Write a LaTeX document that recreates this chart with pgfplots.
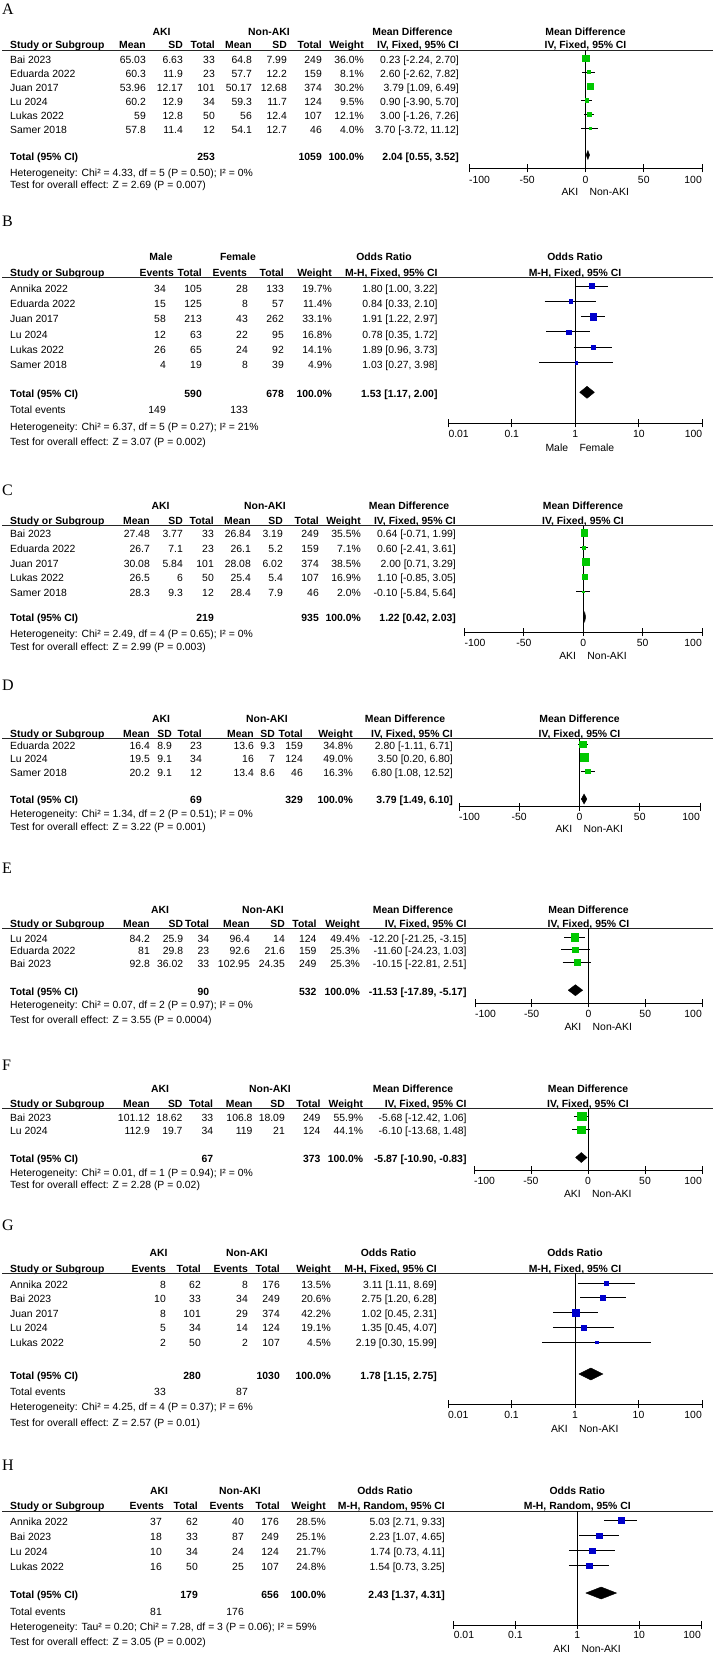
\documentclass[border=0pt]{standalone}
\usepackage{fontspec}
\setmainfont{Liberation Sans}
\newfontfamily\letterfont{Liberation Serif}
\usepackage{pgfplots}
\pgfplotsset{compat=1.18}

\definecolor{boxgreen}{RGB}{0,200,0}
\definecolor{boxblue}{RGB}{0,0,204}

\newcommand\tabfont{\fontsize{10.4}{12}\selectfont}
\tikzset{
  tl/.style={anchor=base west, inner sep=0pt, yshift=-3.7pt, font=\tabfont},
  tr/.style={anchor=base east, inner sep=0pt, yshift=-3.7pt, font=\tabfont},
  tc/.style={anchor=base, inner sep=0pt, yshift=-3.7pt, font=\tabfont},
  tb/.style={font=\tabfont\bfseries},
  letter/.style={anchor=base west, inner sep=0pt, yshift=-5.4pt, font=\letterfont\fontsize{16}{18}\selectfont},
  rule/.style={line width=0.8pt, black!85},
}

% one table row: [style]{right edges of columns}{y}{study}{other cells}
\newcommand\trow[5][]{%
  \node[tl,#1] at (10pt,-#3pt) {#4};
  \foreach \v [count=\i] in {#5} {%
    \pgfmathsetmacro\xx{#2[\i-1]}%
    \node[tr,#1] at (\xx pt,-#3pt) {\v};
  }%
}

% forest plot pieces
\newcommand\study[6]{% colour, estimate, lower, upper, y, weight
  \addplot[black, line width=0.9pt] coordinates {(#3,-#5) (#4,-#5)};
  \addplot[only marks, mark=square*, color=#1, mark size={0.56*sqrt(#6)},
    mark options={line width=0.2pt}] coordinates {(#2,-#5)};
}
\newcommand\diamondrow[5]{% estimate, lower, upper, y, half height
  \pgfmathsetmacro\ytop{-#4+#5}\pgfmathsetmacro\ybot{-#4-#5}%
  \addplot[black, fill=black, line width=0.4pt]
    coordinates {(#2,-#4) (#1,\ytop) (#3,-#4) (#1,\ybot) (#2,-#4)};
}
\newcommand\nullline[3]{\addplot[black, line width=0.9pt] coordinates {(#1,-#2) (#1,-#3)};}
\newcommand\mdlabels[4]{%
  \node[tl] at (axis cs:-100,-#1) {-100};
  \node[tc] at (axis cs:-50,-#1) {-50};
  \node[tc] at (axis cs:0,-#1) {0};
  \node[tc] at (axis cs:50,-#1) {50};
  \node[tr] at (axis cs:100,-#1) {100};
  \node[tr] at ([xshift=-7pt]axis cs:0,-#2) {#3};
  \node[tl] at ([xshift=4pt]axis cs:0,-#2) {#4};
}
\newcommand\orlabels[4]{%
  \node[tl] at (axis cs:0.01,-#1) {0.01};
  \node[tc] at (axis cs:0.1,-#1) {0.1};
  \node[tc] at (axis cs:1,-#1) {1};
  \node[tc] at (axis cs:10,-#1) {10};
  \node[tr] at (axis cs:100,-#1) {100};
  \node[tr] at ([xshift=-7pt]axis cs:1,-#2) {#3};
  \node[tl] at ([xshift=4pt]axis cs:1,-#2) {#4};
}

\pgfplotsset{
  fplot/.style={scale only axis, clip=false, anchor=south west,
    axis x line=bottom, axis y line=none,
    axis line style={-, line width=0.9pt, black},
    every outer x axis line/.append style={-},
    major tick length=8pt, tick align=center,
    tick style={line width=0.9pt, black},
    xticklabels={}, ytick=\empty},
  mdaxis/.style={fplot, xmin=-100, xmax=100, xtick={-100,-50,0,50,100}},
  oraxis/.style={fplot, xmin=0.01, xmax=100,
    xtick={0.01,0.1,1,10,100}, xminorticks=false},
}

% column right edges
\def\cA{{146,183,215,252,287,322,364,459}}
\def\cB{{166,202,248,284,332,437.7}}
\def\hB{{174,202,247,284,332,437.7}}
\def\cC{{150,183,214,251,283,319,361,456}}
\def\cD{{150,172,202,254,275,303,353,453}}
\def\cE{{150,183.3,209.3,250,285,316.7,360,466.7}}
\def\cF{{150,182.7,213.3,252.7,285,320.7,363.3,466.7}}
\def\cG{{166,201,248,280,331,437}}
\def\cH{{162,198,244,279,326,445}}
\def\hH{{164,198,244,280,326,445}}

\begin{document}
\begin{tikzpicture}

% ---------------- A ----------------
\node[letter] at (2pt,-9.5pt) {A};
\node[tc,tb] at (161.5pt,-32pt) {AKI};
\node[tc,tb] at (269pt,-32pt) {Non-AKI};
\node[tc,tb] at (412.5pt,-32pt) {Mean Difference};
\node[tc,tb] at (585.5pt,-32pt) {Mean Difference};
\trow[tb]{\cA}{45}{Study or Subgroup}{Mean,SD,Total,Mean,SD,Total,Weight,{IV, Fixed, 95\% CI}}
\node[tc,tb] at (585.5pt,-45pt) {IV, Fixed, 95\% CI};
\draw[rule] (2pt,-50pt) -- (713pt,-50pt);
\trow{\cA}{60}{Bai 2023}{65.03,6.63,33,64.8,7.99,249,36.0\%,{0.23 [-2.24, 2.70]}}
\trow{\cA}{74}{Eduarda 2022}{60.3,11.9,23,57.7,12.2,159,8.1\%,{2.60 [-2.62, 7.82]}}
\trow{\cA}{88}{Juan 2017}{53.96,12.17,101,50.17,12.68,374,30.2\%,{3.79 [1.09, 6.49]}}
\trow{\cA}{102}{Lu 2024}{60.2,12.9,34,59.3,11.7,124,9.5\%,{0.90 [-3.90, 5.70]}}
\trow{\cA}{116}{Lukas 2022}{59,12.8,50,56,12.4,107,12.1\%,{3.00 [-1.26, 7.26]}}
\trow{\cA}{130}{Samer 2018}{57.8,11.4,12,54.1,12.7,46,4.0\%,{3.70 [-3.72, 11.12]}}
\trow[tb]{\cA}{157}{Total (95\% CI)}{,,253,,,1059,100.0\%,{2.04 [0.55, 3.52]}}
\node[tl] at (10pt,-173pt) {Heterogeneity: Chi² = 4.33, df = 5 (P = 0.50); I² = 0\%};
\node[tl] at (10pt,-185pt) {Test for overall effect: Z = 2.69 (P = 0.007)};
\begin{axis}[mdaxis, at={(469pt,-168.3pt)}, width=233pt, height=118.3pt, ymin=-168.3, ymax=-50]
  \nullline{0}{50}{168.3}
  \study{boxgreen}{0.23}{-2.24}{2.70}{58}{36.0}
  \study{boxgreen}{2.60}{-2.62}{7.82}{72}{8.1}
  \study{boxgreen}{3.79}{1.09}{6.49}{86}{30.2}
  \study{boxgreen}{0.90}{-3.90}{5.70}{100}{9.5}
  \study{boxgreen}{3.00}{-1.26}{7.26}{114}{12.1}
  \study{boxgreen}{3.70}{-3.72}{11.12}{128}{4.0}
  \diamondrow{2.04}{0.55}{3.52}{155}{4.5}
  \mdlabels{180}{192}{AKI}{Non-AKI}
\end{axis}

% ---------------- B ----------------
\node[letter] at (2pt,-221pt) {B};
\node[tc,tb] at (161pt,-257pt) {Male};
\node[tc,tb] at (238pt,-257pt) {Female};
\node[tc,tb] at (384pt,-257pt) {Odds Ratio};
\node[tc,tb] at (575pt,-257pt) {Odds Ratio};
\trow[tb]{\hB}{273}{Study or Subgroup}{Events,Total,Events,Total,Weight,{M-H, Fixed, 95\% CI}}
\node[tc,tb] at (575pt,-273pt) {M-H, Fixed, 95\% CI};
\draw[rule] (2pt,-277pt) -- (713pt,-277pt);
\trow{\cB}{288.5}{Annika 2022}{34,105,28,133,19.7\%,{1.80 [1.00, 3.22]}}
\trow{\cB}{303.8}{Eduarda 2022}{15,125,8,57,11.4\%,{0.84 [0.33, 2.10]}}
\trow{\cB}{319.1}{Juan 2017}{58,213,43,262,33.1\%,{1.91 [1.22, 2.97]}}
\trow{\cB}{334.4}{Lu 2024}{12,63,22,95,16.8\%,{0.78 [0.35, 1.72]}}
\trow{\cB}{349.7}{Lukas 2022}{26,65,24,92,14.1\%,{1.89 [0.96, 3.73]}}
\trow{\cB}{365}{Samer 2018}{4,19,8,39,4.9\%,{1.03 [0.27, 3.98]}}
\trow[tb]{\cB}{394}{Total (95\% CI)}{,590,,678,100.0\%,{1.53 [1.17, 2.00]}}
\trow{\cB}{410}{Total events}{149,,133}
\node[tl] at (10pt,-427pt) {Heterogeneity: Chi² = 6.37, df = 5 (P = 0.27); I² = 21\%};
\node[tl] at (10pt,-442pt) {Test for overall effect: Z = 3.07 (P = 0.002)};
\begin{semilogxaxis}[oraxis, at={(448.3pt,-423.3pt)}, width=254pt, height=146.3pt, ymin=-423.3, ymax=-277]
  \nullline{1}{277}{423.3}
  \study{boxblue}{1.80}{1.00}{3.22}{286}{19.7}
  \study{boxblue}{0.84}{0.33}{2.10}{301.3}{11.4}
  \study{boxblue}{1.91}{1.22}{2.97}{316.6}{33.1}
  \study{boxblue}{0.78}{0.35}{1.72}{331.9}{16.8}
  \study{boxblue}{1.89}{0.96}{3.73}{347.2}{14.1}
  \study{boxblue}{1.03}{0.27}{3.98}{362.5}{4.9}
  \diamondrow{1.53}{1.17}{2.00}{392.3}{6}
  \orlabels{433.5}{448}{Male}{Female}
\end{semilogxaxis}

% ---------------- C ----------------
\node[letter] at (2pt,-490pt) {C};
\node[tc,tb] at (160.5pt,-506pt) {AKI};
\node[tc,tb] at (265pt,-506pt) {Non-AKI};
\node[tc,tb] at (409pt,-506pt) {Mean Difference};
\node[tc,tb] at (583pt,-506pt) {Mean Difference};
\trow[tb]{\cC}{521}{Study or Subgroup}{Mean,SD,Total,Mean,SD,Total,Weight,{IV, Fixed, 95\% CI}}
\node[tc,tb] at (583pt,-521pt) {IV, Fixed, 95\% CI};
\draw[rule] (2pt,-525.7pt) -- (713pt,-525.7pt);
\trow{\cC}{534}{Bai 2023}{27.48,3.77,33,26.84,3.19,249,35.5\%,{0.64 [-0.71, 1.99]}}
\trow{\cC}{549}{Eduarda 2022}{26.7,7.1,23,26.1,5.2,159,7.1\%,{0.60 [-2.41, 3.61]}}
\trow{\cC}{563.5}{Juan 2017}{30.08,5.84,101,28.08,6.02,374,38.5\%,{2.00 [0.71, 3.29]}}
\trow{\cC}{578}{Lukas 2022}{26.5,6,50,25.4,5.4,107,16.9\%,{1.10 [-0.85, 3.05]}}
\trow{\cC}{593}{Samer 2018}{28.3,9.3,12,28.4,7.9,46,2.0\%,{-0.10 [-5.84, 5.64]}}
\trow[tb]{\cC}{618}{Total (95\% CI)}{,,219,,,935,100.0\%,{1.22 [0.42, 2.03]}}
\node[tl] at (10pt,-634pt) {Heterogeneity: Chi² = 2.49, df = 4 (P = 0.65); I² = 0\%};
\node[tl] at (10pt,-647pt) {Test for overall effect: Z = 2.99 (P = 0.003)};
\begin{axis}[mdaxis, at={(464.5pt,-632pt)}, width=237.5pt, height=106.3pt, ymin=-632, ymax=-525.7]
  \nullline{0}{525.7}{632}
  \study{boxgreen}{0.64}{-0.71}{1.99}{532.5}{35.5}
  \study{boxgreen}{0.60}{-2.41}{3.61}{547.5}{7.1}
  \study{boxgreen}{2.00}{0.71}{3.29}{562}{38.5}
  \study{boxgreen}{1.10}{-0.85}{3.05}{576.5}{16.9}
  \study{boxgreen}{-0.10}{-5.84}{5.64}{591.5}{2.0}
  \diamondrow{1.22}{0.42}{2.03}{617}{5}
  \mdlabels{643}{656}{AKI}{Non-AKI}
\end{axis}

% ---------------- D ----------------
\node[letter] at (2pt,-685pt) {D};
\node[tc,tb] at (161pt,-719pt) {AKI};
\node[tc,tb] at (267pt,-719pt) {Non-AKI};
\node[tc,tb] at (405pt,-719pt) {Mean Difference};
\node[tc,tb] at (579.5pt,-719pt) {Mean Difference};
\trow[tb]{\cD}{734}{Study or Subgroup}{Mean,SD,Total,Mean,SD,Total,Weight,{IV, Fixed, 95\% CI}}
\node[tc,tb] at (579.5pt,-734pt) {IV, Fixed, 95\% CI};
\draw[rule] (2pt,-738.3pt) -- (713pt,-738.3pt);
\trow{\cD}{745.5}{Eduarda 2022}{16.4,8.9,23,13.6,9.3,159,34.8\%,{2.80 [-1.11, 6.71]}}
\trow{\cD}{759}{Lu 2024}{19.5,9.1,34,16,7,124,49.0\%,{3.50 [0.20, 6.80]}}
\trow{\cD}{772.5}{Samer 2018}{20.2,9.1,12,13.4,8.6,46,16.3\%,{6.80 [1.08, 12.52]}}
\trow[tb]{\cD}{800}{Total (95\% CI)}{,,69,,,329,100.0\%,{3.79 [1.49, 6.10]}}
\node[tl] at (10pt,-814pt) {Heterogeneity: Chi² = 1.34, df = 2 (P = 0.51); I² = 0\%};
\node[tl] at (10pt,-827pt) {Test for overall effect: Z = 3.22 (P = 0.001)};
\begin{axis}[mdaxis, at={(459pt,-806.7pt)}, width=241pt, height=68.4pt, ymin=-806.7, ymax=-738.3]
  \nullline{0}{738.3}{806.7}
  \study{boxgreen}{2.80}{-1.11}{6.71}{744}{34.8}
  \study{boxgreen}{3.50}{0.20}{6.80}{757.5}{49.0}
  \study{boxgreen}{6.80}{1.08}{12.52}{771}{16.3}
  \diamondrow{3.79}{1.49}{6.10}{799}{5}
  \mdlabels{817}{829}{AKI}{Non-AKI}
\end{axis}

% ---------------- E ----------------
\node[letter] at (2pt,-868pt) {E};
\node[tc,tb] at (160pt,-910pt) {AKI};
\node[tc,tb] at (263pt,-910pt) {Non-AKI};
\node[tc,tb] at (413pt,-910pt) {Mean Difference};
\node[tc,tb] at (588.5pt,-910pt) {Mean Difference};
\trow[tb]{\cE}{923.3}{Study or Subgroup}{Mean,SD,Total,Mean,SD,Total,Weight,{IV, Fixed, 95\% CI}}
\node[tc,tb] at (588.5pt,-923.3pt) {IV, Fixed, 95\% CI};
\draw[rule] (2pt,-928.3pt) -- (713pt,-928.3pt);
\trow{\cE}{938.3}{Lu 2024}{84.2,25.9,34,96.4,14,124,49.4\%,{-12.20 [-21.25, -3.15]}}
\trow{\cE}{951}{Eduarda 2022}{81,29.8,23,92.6,21.6,159,25.3\%,{-11.60 [-24.23, 1.03]}}
\trow{\cE}{963.7}{Bai 2023}{92.8,36.02,33,102.95,24.35,249,25.3\%,{-10.15 [-22.81, 2.51]}}
\trow[tb]{\cE}{991.7}{Total (95\% CI)}{,,90,,,532,100.0\%,{-11.53 [-17.89, -5.17]}}
\node[tl] at (10pt,-1005pt) {Heterogeneity: Chi² = 0.07, df = 2 (P = 0.97); I² = 0\%};
\node[tl] at (10pt,-1020pt) {Test for overall effect: Z = 3.55 (P = 0.0004)};
\begin{axis}[mdaxis, at={(475pt,-1003.3pt)}, width=227pt, height=75pt, ymin=-1003.3, ymax=-928.3]
  \nullline{0}{928.3}{1003.3}
  \study{boxgreen}{-12.20}{-21.25}{-3.15}{937}{49.4}
  \study{boxgreen}{-11.60}{-24.23}{1.03}{949.5}{25.3}
  \study{boxgreen}{-10.15}{-22.81}{2.51}{962.2}{25.3}
  \diamondrow{-11.53}{-17.89}{-5.17}{990.2}{5.5}
  \mdlabels{1014}{1027}{AKI}{Non-AKI}
\end{axis}

% ---------------- F ----------------
\node[letter] at (2pt,-1065pt) {F};
\node[tc,tb] at (160pt,-1088.3pt) {AKI};
\node[tc,tb] at (270pt,-1088.3pt) {Non-AKI};
\node[tc,tb] at (413pt,-1088.3pt) {Mean Difference};
\node[tc,tb] at (588pt,-1088.3pt) {Mean Difference};
\trow[tb]{\cF}{1103.3}{Study or Subgroup}{Mean,SD,Total,Mean,SD,Total,Weight,{IV, Fixed, 95\% CI}}
\node[tc,tb] at (588pt,-1103.3pt) {IV, Fixed, 95\% CI};
\draw[rule] (2pt,-1108.3pt) -- (713pt,-1108.3pt);
\trow{\cF}{1117.7}{Bai 2023}{101.12,18.62,33,106.8,18.09,249,55.9\%,{-5.68 [-12.42, 1.06]}}
\trow{\cF}{1131}{Lu 2024}{112.9,19.7,34,119,21,124,44.1\%,{-6.10 [-13.68, 1.48]}}
\trow[tb]{\cF}{1159}{Total (95\% CI)}{,,67,,,373,100.0\%,{-5.87 [-10.90, -0.83]}}
\node[tl] at (10pt,-1172.3pt) {Heterogeneity: Chi² = 0.01, df = 1 (P = 0.94); I² = 0\%};
\node[tl] at (10pt,-1185pt) {Test for overall effect: Z = 2.28 (P = 0.02)};
\begin{axis}[mdaxis, at={(474pt,-1170pt)}, width=228pt, height=61.7pt, ymin=-1170, ymax=-1108.3]
  \nullline{0}{1108.3}{1170}
  \study{boxgreen}{-5.68}{-12.42}{1.06}{1116.2}{55.9}
  \study{boxgreen}{-6.10}{-13.68}{1.48}{1129.5}{44.1}
  \diamondrow{-5.87}{-10.90}{-0.83}{1157.5}{5}
  \mdlabels{1181}{1194}{AKI}{Non-AKI}
\end{axis}

% ---------------- G ----------------
\node[letter] at (2pt,-1225pt) {G};
\node[tc,tb] at (158.6pt,-1253pt) {AKI};
\node[tc,tb] at (247pt,-1253pt) {Non-AKI};
\node[tc,tb] at (388.6pt,-1253pt) {Odds Ratio};
\node[tc,tb] at (575pt,-1253pt) {Odds Ratio};
\trow[tb]{\cG}{1269}{Study or Subgroup}{Events,Total,Events,Total,Weight,{M-H, Fixed, 95\% CI}}
\node[tc,tb] at (575pt,-1269pt) {M-H, Fixed, 95\% CI};
\draw[rule] (2pt,-1273pt) -- (713pt,-1273pt);
\trow{\cG}{1285}{Annika 2022}{8,62,8,176,13.5\%,{3.11 [1.11, 8.69]}}
\trow{\cG}{1299}{Bai 2023}{10,33,34,249,20.6\%,{2.75 [1.20, 6.28]}}
\trow{\cG}{1313.5}{Juan 2017}{8,101,29,374,42.2\%,{1.02 [0.45, 2.31]}}
\trow{\cG}{1328}{Lu 2024}{5,34,14,124,19.1\%,{1.35 [0.45, 4.07]}}
\trow{\cG}{1342.5}{Lukas 2022}{2,50,2,107,4.5\%,{2.19 [0.30, 15.99]}}
\trow[tb]{\cG}{1376}{Total (95\% CI)}{,280,,1030,100.0\%,{1.78 [1.15, 2.75]}}
\trow{\cG}{1392}{Total events}{33,,87}
\node[tl] at (10pt,-1407pt) {Heterogeneity: Chi² = 4.25, df = 4 (P = 0.37); I² = 6\%};
\node[tl] at (10pt,-1423pt) {Test for overall effect: Z = 2.57 (P = 0.01)};
\begin{semilogxaxis}[oraxis, at={(448pt,-1404pt)}, width=254pt, height=131pt, ymin=-1404, ymax=-1273]
  \nullline{1}{1273}{1404}
  \study{boxblue}{3.11}{1.11}{8.69}{1283.5}{13.5}
  \study{boxblue}{2.75}{1.20}{6.28}{1297.5}{20.6}
  \study{boxblue}{1.02}{0.45}{2.31}{1312.5}{42.2}
  \study{boxblue}{1.35}{0.45}{4.07}{1327.5}{19.1}
  \study{boxblue}{2.19}{0.30}{15.99}{1342}{4.5}
  \diamondrow{1.78}{1.15}{2.75}{1374}{6}
  \orlabels{1415}{1429}{AKI}{Non-AKI}
\end{semilogxaxis}

% ---------------- H ----------------
\node[letter] at (2pt,-1465pt) {H};
\node[tc,tb] at (159pt,-1491pt) {AKI};
\node[tc,tb] at (240pt,-1491pt) {Non-AKI};
\node[tc,tb] at (385pt,-1491pt) {Odds Ratio};
\node[tc,tb] at (577.3pt,-1491pt) {Odds Ratio};
\trow[tb]{\hH}{1506}{Study or Subgroup}{Events,Total,Events,Total,Weight,{M-H, Random, 95\% CI}}
\node[tc,tb] at (577.3pt,-1506pt) {M-H, Random, 95\% CI};
\draw[rule] (2pt,-1511pt) -- (713pt,-1511pt);
\trow{\cH}{1522}{Annika 2022}{37,62,40,176,28.5\%,{5.03 [2.71, 9.33]}}
\trow{\cH}{1537}{Bai 2023}{18,33,87,249,25.1\%,{2.23 [1.07, 4.65]}}
\trow{\cH}{1552}{Lu 2024}{10,34,24,124,21.7\%,{1.74 [0.73, 4.11]}}
\trow{\cH}{1567}{Lukas 2022}{16,50,25,107,24.8\%,{1.54 [0.73, 3.25]}}
\trow[tb]{\cH}{1595}{Total (95\% CI)}{,179,,656,100.0\%,{2.43 [1.37, 4.31]}}
\trow{\cH}{1612}{Total events}{81,,176}
\node[tl] at (10pt,-1627pt) {Heterogeneity: Tau² = 0.20; Chi² = 7.28, df = 3 (P = 0.06); I² = 59\%};
\node[tl] at (10pt,-1642pt) {Test for overall effect: Z = 3.05 (P = 0.002)};
\begin{semilogxaxis}[oraxis, at={(453.6pt,-1625pt)}, width=247.4pt, height=114pt, ymin=-1625, ymax=-1511]
  \nullline{1}{1511}{1625}
  \study{boxblue}{5.03}{2.71}{9.33}{1520.5}{28.5}
  \study{boxblue}{2.23}{1.07}{4.65}{1535.5}{25.1}
  \study{boxblue}{1.74}{0.73}{4.11}{1550.5}{21.7}
  \study{boxblue}{1.54}{0.73}{3.25}{1565.5}{24.8}
  \diamondrow{2.43}{1.37}{4.31}{1593}{6}
  \orlabels{1635}{1648.5}{AKI}{Non-AKI}
\end{semilogxaxis}

\pgfresetboundingbox
\path[use as bounding box] (0pt,0pt) rectangle (713pt,-1653pt);
\end{tikzpicture}
\end{document}
